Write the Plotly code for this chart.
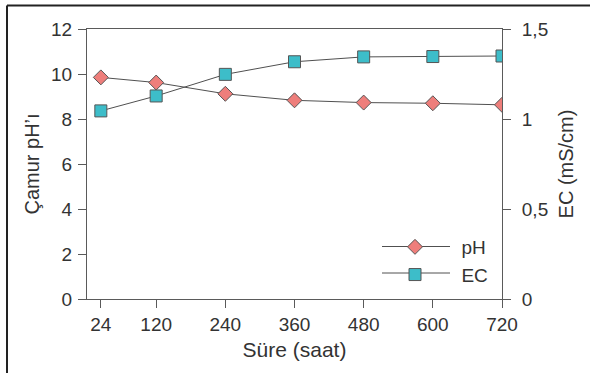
import plotly.graph_objects as go

hours = [24, 120, 240, 360, 480, 600, 720]
ph_values = [9.85, 9.62, 9.12, 8.83, 8.73, 8.7, 8.63]
ec_values = [1.045, 1.128, 1.248, 1.318, 1.345, 1.347, 1.35]

x_ticks = [24, 120, 240, 360, 480, 600, 720]
y_left_ticks = [0, 2, 4, 6, 8, 10, 12]
y_right_ticks = [0, 0.5, 1, 1.5]
y_right_labels = ["0", "0,5", "1", "1,5"]
series_names = ["pH", "EC"]

FONT = "Liberation Sans, Arial, sans-serif"
TXT = "#333333"
AX = "#5a5a5a"
LINE = "#505050"
PH_COLOR = "#EE7E7B"
EC_COLOR = "#3DBDC9"
EDGE = "#555555"

L, R, T, B = 87, 502, 29, 299
W, H = 590, 373
PW, PH = R - L, B - T


def px_x(p):
    return (p - L) / PW


def px_y(p):
    return (B - p) / PH


PAD = "\u00a0" * 5
ph_marker = dict(symbol="diamond", size=11.5, color=PH_COLOR, line=dict(color=EDGE, width=1))
ec_marker = dict(symbol="square", size=12, color=EC_COLOR, line=dict(color=EDGE, width=1))

fig = go.Figure()
fig.add_trace(go.Scatter(
    x=hours, y=ph_values, name=series_names[0], mode="lines+markers",
    line=dict(color=LINE, width=1), marker=ph_marker, showlegend=False,
))
fig.add_trace(go.Scatter(
    x=hours, y=ec_values, name=series_names[1], mode="lines+markers", yaxis="y2",
    line=dict(color=LINE, width=1), marker=ec_marker, showlegend=False,
))
# legend entries (symbol only; the legend lines are drawn as shapes below)
fig.add_trace(go.Scatter(x=[None], y=[None], name=PAD + series_names[0],
                         mode="markers", marker=ph_marker))
fig.add_trace(go.Scatter(x=[None], y=[None], name=PAD + series_names[1],
                         mode="markers", marker=ec_marker))

tickfont = dict(family=FONT, size=19, color=TXT)
titlefont = dict(family=FONT, size=20, color=TXT)

fig.update_layout(
    width=W, height=H,
    margin=dict(l=L, r=W - R, t=T, b=H - B, autoexpand=False),
    paper_bgcolor="white", plot_bgcolor="white",
    font=dict(family=FONT, size=19, color=TXT),
    showlegend=True,
    legend=dict(x=px_x(395), y=px_y(228), xanchor="left", yanchor="top",
                bgcolor="rgba(0,0,0,0)", font=dict(size=19, color=TXT),
                tracegroupgap=0),
    xaxis=dict(
        range=[0, 720], tickvals=x_ticks, ticktext=[str(v) for v in x_ticks],
        showgrid=False, zeroline=False, showline=True, linecolor=AX, linewidth=1,
        mirror=True, ticks="outside", ticklen=8, tickcolor=AX, tickfont=tickfont,
        title=dict(text="Süre (saat)", standoff=8, font=dict(family=FONT, size=21, color=TXT)),
    ),
    yaxis=dict(
        range=[0, 12], tickvals=y_left_ticks,
        showgrid=False, zeroline=False, showline=True, linecolor=AX, linewidth=1,
        ticks="outside", ticklen=8, tickcolor=AX, tickfont=tickfont,
        ticklabelstandoff=2,
        title=dict(text="Çamur pH’ı", standoff=6, font=titlefont),
    ),
    yaxis2=dict(
        range=[0, 1.5], tickvals=y_right_ticks, ticktext=y_right_labels,
        overlaying="y", side="right",
        showgrid=False, zeroline=False, showline=True, linecolor=AX, linewidth=1,
        ticks="outside", ticklen=8, tickcolor=AX, tickfont=tickfont,
        ticklabelstandoff=7,
        title=dict(text="EC (mS/cm)", standoff=11, font=titlefont),
    ),
)

# legend lines
for row_y in (246.5, 273):
    fig.add_shape(type="line", xref="paper", yref="paper", layer="below",
                  x0=px_x(382), x1=px_x(450), y0=px_y(row_y), y1=px_y(row_y),
                  line=dict(color=LINE, width=1))

# outer frame lines (top and left)
fig.add_shape(type="line", xref="paper", yref="paper",
              x0=px_x(7), x1=px_x(600), y0=px_y(5.5), y1=px_y(5.5),
              line=dict(color="#222222", width=2))
fig.add_shape(type="line", xref="paper", yref="paper",
              x0=px_x(7), x1=px_x(7), y0=px_y(5.5), y1=px_y(380),
              line=dict(color="#222222", width=2))

fig.write_html("out.html", config={"displayModeBar": False},
               post_script="document.body.style.margin='0';")
